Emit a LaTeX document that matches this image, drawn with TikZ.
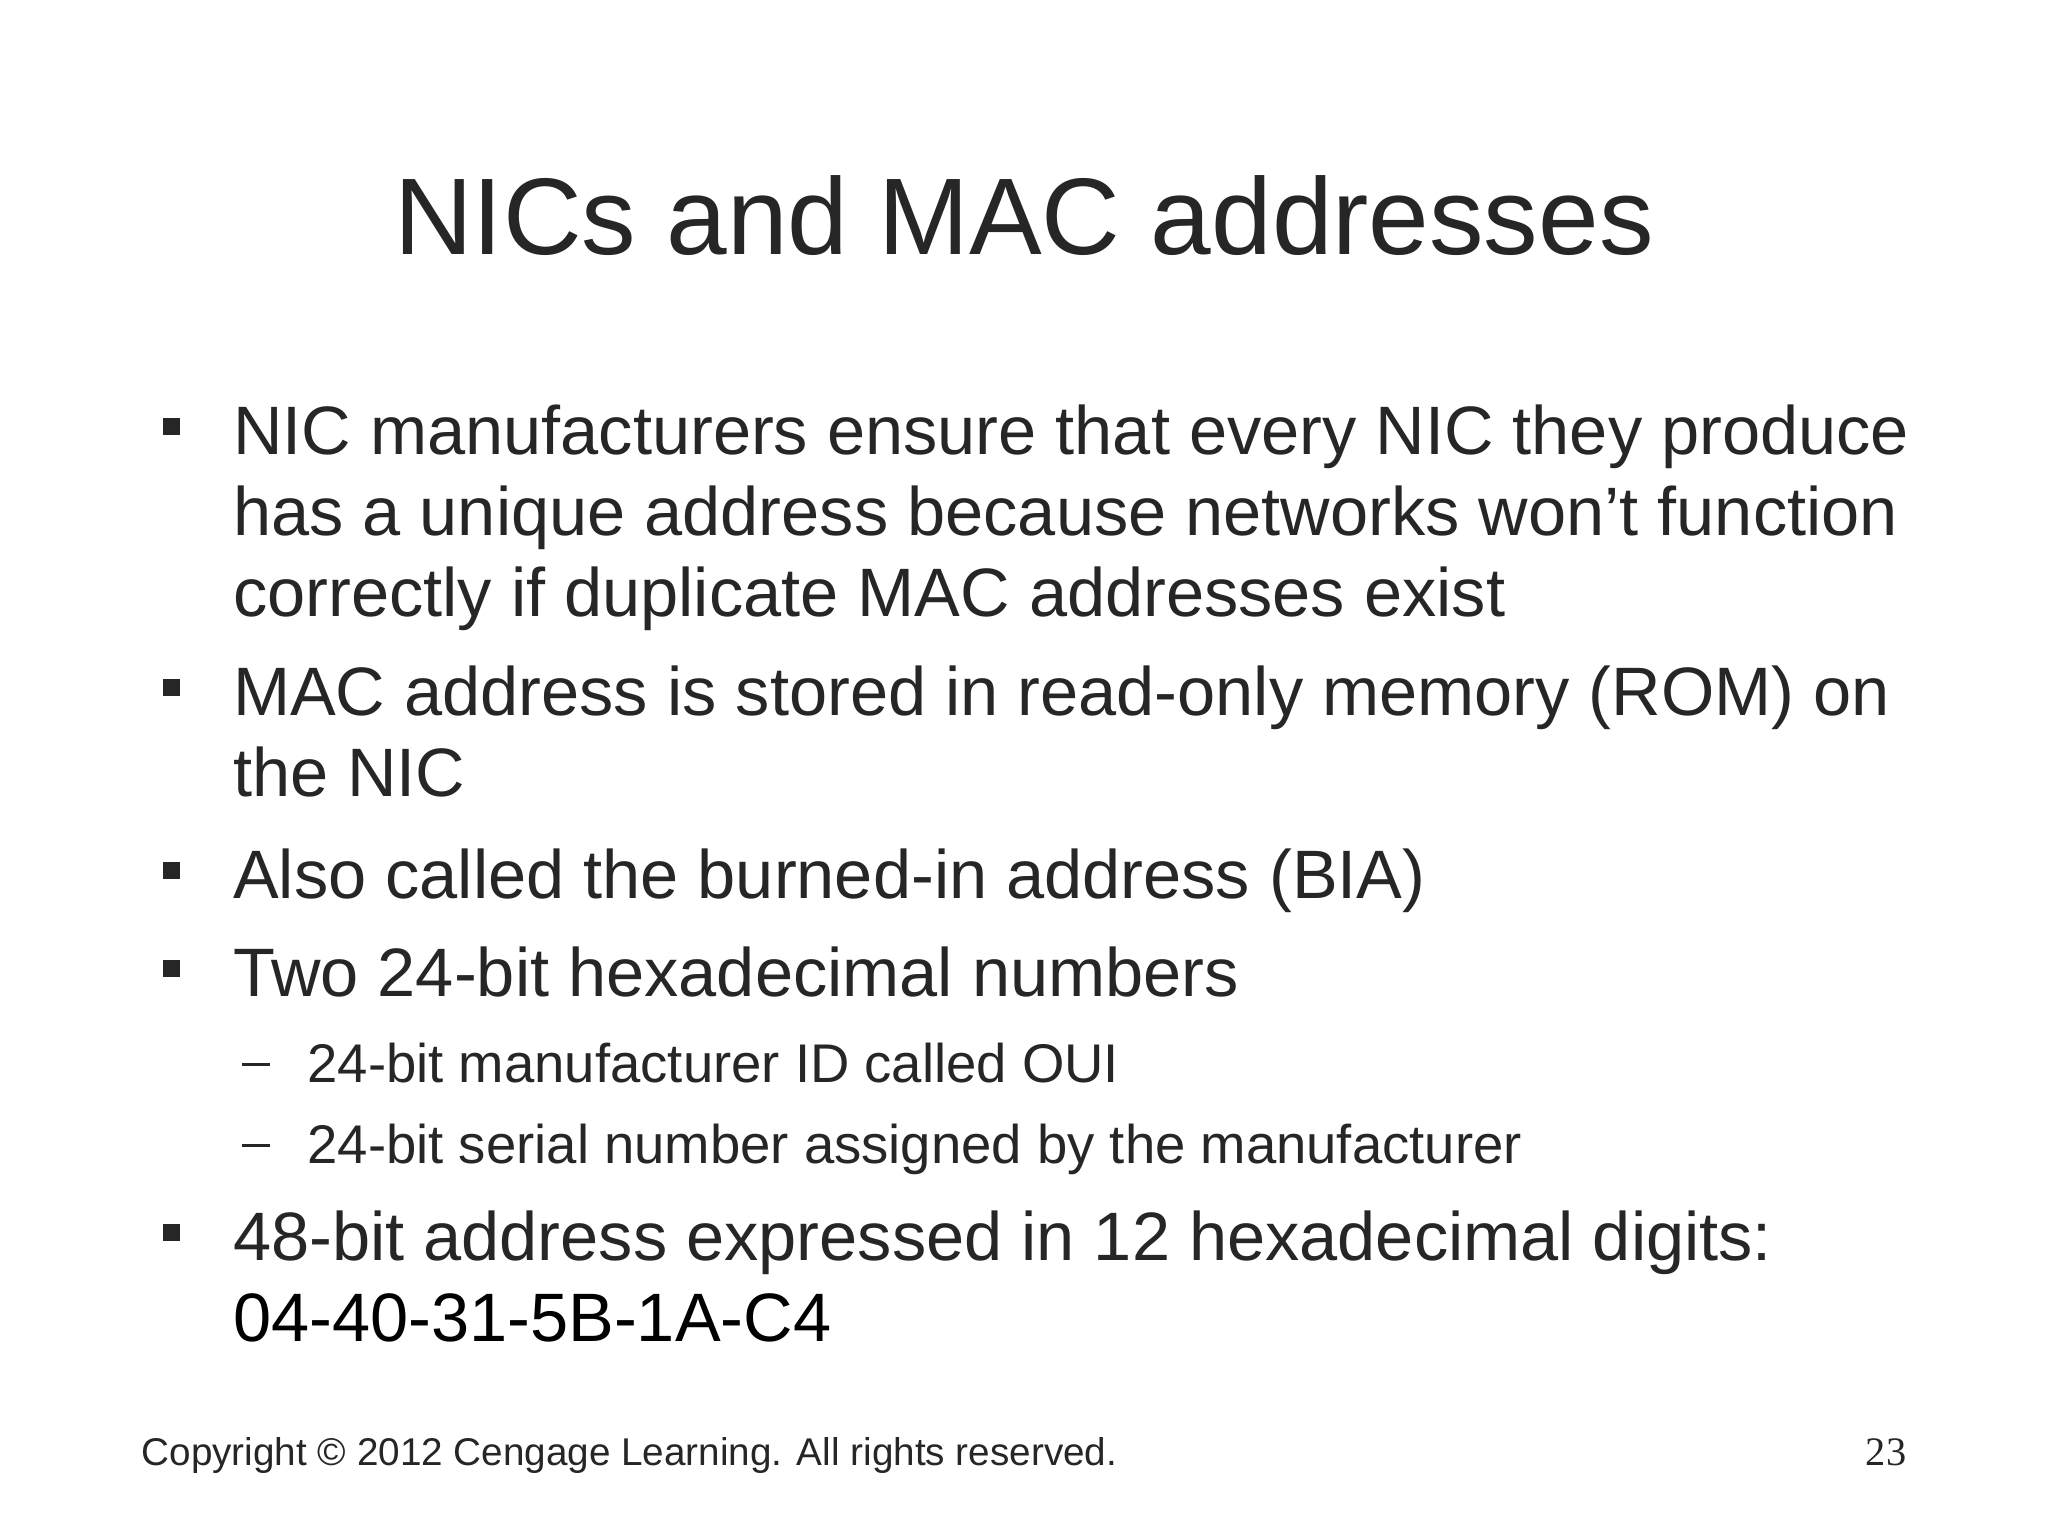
\documentclass[tikz,border=0pt]{standalone}
\usepackage{fontspec}
\setmainfont{Liberation Sans}
\newfontfamily\serifnum{Liberation Serif}
\definecolor{txt}{HTML}{262626}
\begin{document}
\begin{tikzpicture}[x=0.013061cm,y=-0.013061cm,
  body/.style={anchor=base west,inner sep=0,text=txt,font=\fontsize{19.5}{23}\selectfont},
  sub/.style={anchor=base west,inner sep=0,text=txt,font=\fontsize{15.5}{19}\selectfont},
  bul/.style={fill=txt}]
\useasboundingbox (0,0) rectangle (1568,1176);
\node[anchor=base,inner sep=0,text=txt,font=\fontsize{31}{36}\selectfont] (title) at (784,195) {NICs and MAC addresses};
\foreach \y in {327,527,667,742,944} \fill[bul] (125,\y-7) rectangle (138,\y+6);
\foreach \y in {815,877} \fill[txt] (185,\y-1) rectangle (207,\y+1);
\node[body] (a1) at (178,348) {NIC manufacturers ensure that every NIC they produce};
\node[body] (a2) at (178,410) {has a unique address because networks won’t function};
\node[body] (a3) at (178,472) {correctly if duplicate MAC addresses exist};
\node[body] (b1) at (178,548) {MAC address is stored in read-only memory (ROM) on};
\node[body] (b2) at (178,610) {the NIC};
\node[body] (c1) at (178,688) {Also called the burned-in address (BIA)};
\node[body] (d1) at (178,763) {Two 24-bit hexadecimal numbers};
\node[sub] (s1) at (235,829) {24-bit manufacturer ID called OUI};
\node[sub] (s2) at (235,891) {24-bit serial number assigned by the manufacturer};
\node[body] (e1) at (178,965) {48-bit address expressed in 12 hexadecimal digits:};
\node[body,text=black] (e2) at (178,1027) {04-40-31-5B-1A-C4};
\node[anchor=base west,inner sep=0,text=txt,font=\fontsize{11}{13}\selectfont] (copy) at (108,1122) {Copyright © 2012 Cengage Learning. All rights reserved.};
\node[anchor=base east,inner sep=0,text=txt,font=\serifnum\fontsize{11.5}{13}\selectfont] (num) at (1460,1122) {23};
\end{tikzpicture}
\end{document}
